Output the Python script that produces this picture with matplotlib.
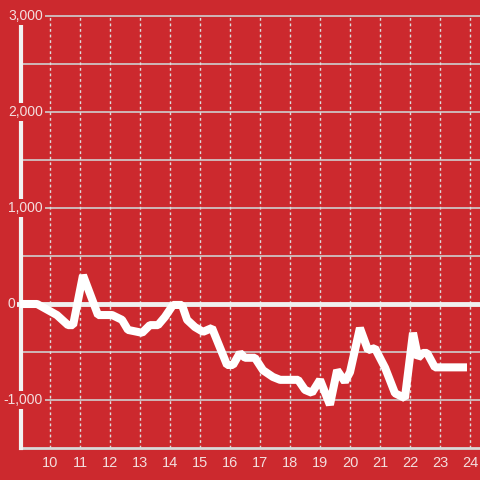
import matplotlib
matplotlib.use('Agg')
import matplotlib.pyplot as plt

# series
x = [9.0, 9.57, 10.23, 10.6, 10.77, 11.1, 11.6, 12.07, 12.4, 12.6, 13.07, 13.33,
     13.6, 13.83, 14.1, 14.4, 14.57, 14.83, 15.1, 15.4, 15.9, 16.1, 16.33, 16.5,
     16.83, 17.1, 17.43, 17.67, 18.27, 18.5, 18.73, 19.0, 19.33, 19.57, 19.83,
     20.0, 20.33, 20.6, 20.83, 21.17, 21.5, 21.83, 22.1, 22.27, 22.43, 22.57,
     22.83, 23.9]
y = [0, 0, -115, -220, -220, 300, -115, -115, -165, -270, -300, -220,
     -220, -135, -10, -10, -165, -240, -290, -250, -635, -635, -510, -560,
     -560, -690, -760, -790, -790, -895, -925, -790, -1050, -690, -810,
     -710, -250, -480, -460, -665, -930, -980, -300, -560, -510, -510,
     -660, -660]

x_ticks = list(range(10, 25))
y_grid = [3000, 2500, 2000, 1500, 1000, 500, -500, -1000]
y_ticks = [3000, 2000, 1000, 0, -1000]
y_labels = ['3,000', '2,000', '1,000', '0', '-1,000']

bg = '#cc292e'
label_col = '#f3dede'

plt.rcParams['font.family'] = ['Liberation Sans', 'DejaVu Sans']

fig = plt.figure(figsize=(4.8, 4.8), dpi=100, facecolor=bg)
ax = fig.add_axes([0, 0, 1, 1], facecolor=bg)
ax.set_xlim(8.333, 24.333)
ax.set_ylim(-1833.3, 3166.7)
ax.axis('off')

# grid
for g in y_grid:
    ax.plot([9, 24.4], [g, g], color='#cfcfcf', lw=1.2, zorder=1)
ax.vlines(x_ticks, -1500, 3000, colors='#dddddd', lw=1, linestyles=(0, (2, 2)), zorder=1)
ax.plot([9, 24.4], [-1500, -1500], color='#d8d8d8', lw=2, zorder=2)
ax.plot([8.9, 24.4], [0, 0], color='#f0f0f0', lw=3.5, zorder=2)
ax.plot([9.02, 9.02], [-1500, 2917], color='#f2f2f2', lw=3, zorder=2)

# data line
ax.plot(x, y, color='white', lw=5.8, solid_joinstyle='bevel', solid_capstyle='butt', zorder=5)

# tick labels
for t in x_ticks:
    ax.text(t, -1660, str(t), ha='center', va='center', fontsize=10.5, color=label_col, zorder=6)
for v, s in zip(y_ticks, y_labels):
    xpos = 8.83 if v == 0 else 9.77
    ax.text(xpos, v, s, ha='right', va='center', fontsize=10, color=label_col, zorder=6,
            bbox=dict(facecolor=bg, edgecolor='none', pad=1.5))

fig.savefig('out.png', dpi=100, facecolor=bg)
